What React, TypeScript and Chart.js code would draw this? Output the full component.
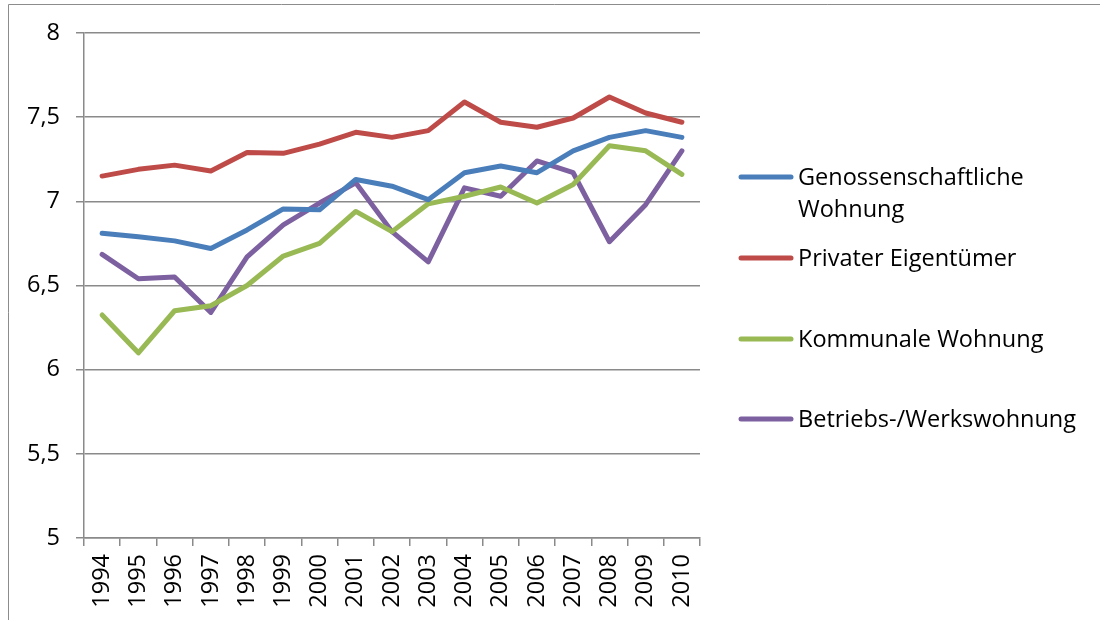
import React, { useEffect, useRef } from "react";
import { Chart, registerables } from "chart.js";

Chart.register(...registerables);

const years = ["1994", "1995", "1996", "1997", "1998", "1999", "2000", "2001", "2002", "2003", "2004", "2005", "2006", "2007", "2008", "2009", "2010"];
const genossenschaftlich = [6.81, 6.79, 6.765, 6.72, 6.83, 6.955, 6.95, 7.13, 7.09, 7.01, 7.17, 7.21, 7.17, 7.3, 7.38, 7.42, 7.38];
const privat = [7.15, 7.19, 7.215, 7.18, 7.29, 7.285, 7.34, 7.41, 7.38, 7.42, 7.59, 7.47, 7.44, 7.495, 7.62, 7.525, 7.47];
const kommunal = [6.325, 6.1, 6.35, 6.38, 6.5, 6.675, 6.75, 6.94, 6.82, 6.985, 7.03, 7.085, 6.99, 7.1, 7.33, 7.3, 7.16];
const betrieb = [6.685, 6.54, 6.55, 6.34, 6.67, 6.86, 6.99, 7.11, 6.82, 6.64, 7.08, 7.03, 7.24, 7.17, 6.76, 6.98, 7.3];
const seriesNames = ["Genossenschaftliche Wohnung", "Privater Eigentümer", "Kommunale Wohnung", "Betriebs-/Werkswohnung"];
const legendLines = [["Genossenschaftliche", "Wohnung"], ["Privater Eigentümer"], ["Kommunale Wohnung"], ["Betriebs-/Werkswohnung"]];
const seriesColors = ["#4A7EBB", "#BE4B48", "#98B954", "#7D60A0"];
const yMin = 5;
const yMax = 8;
const yStep = 0.5;

const FONT = "'Open Sans', Lato, sans-serif";
const FONT_SIZE = 23.5;
const GRID = "#8a8a8a";

const framePlugin = {
  id: "frame",
  beforeDraw(chart: any) {
    const ctx = chart.ctx;
    ctx.save();
    ctx.strokeStyle = "#8c8c8c";
    ctx.lineWidth = 1;
    ctx.beginPath();
    ctx.moveTo(8.5, 620);
    ctx.lineTo(8.5, 4.5);
    ctx.lineTo(1100, 4.5);
    ctx.stroke();
    ctx.restore();
  },
};

const legendPlugin = {
  id: "customLegend",
  afterDraw(chart: any) {
    const ctx = chart.ctx;
    const rowY = [177, 258, 339, 419];
    ctx.save();
    chart.data.datasets.forEach((ds: any, i: number) => {
      const y = rowY[i];
      ctx.strokeStyle = ds.borderColor;
      ctx.lineWidth = 5;
      ctx.lineCap = "round";
      ctx.beginPath();
      ctx.moveTo(741, y);
      ctx.lineTo(791, y);
      ctx.stroke();
      ctx.fillStyle = "#000";
      ctx.font = `${FONT_SIZE}px ${FONT}`;
      ctx.textAlign = "left";
      ctx.textBaseline = "alphabetic";
      legendLines[i].forEach((t, j) => {
        ctx.fillText(t, 798, y + 8 + j * 32);
      });
    });
    ctx.restore();
  },
};

export default function App() {
  const ref = useRef<HTMLCanvasElement>(null);
  useEffect(() => {
    const canvas = ref.current!;
    const data = [genossenschaftlich, privat, kommunal, betrieb];
    const chart = new Chart(canvas, {
      type: "line",
      data: {
        labels: years,
        datasets: data.map((d, i) => ({
          label: seriesNames[i],
          data: d,
          borderColor: seriesColors[i],
          backgroundColor: seriesColors[i],
          borderWidth: 5,
          pointRadius: 0,
          tension: 0,
          borderCapStyle: "round" as const,
          borderJoinStyle: "round" as const,
          fill: false,
        })),
      },
      options: {
        animation: false,
        responsive: false,
        devicePixelRatio: 1,
        layout: { padding: { left: 0, top: 33, right: 400, bottom: 0 } },
        plugins: { legend: { display: false }, tooltip: { enabled: false } },
        scales: {
          x: {
            offset: true,
            grid: {
              display: true,
              offset: true,
              drawOnChartArea: false,
              drawTicks: true,
              tickLength: 8,
              color: GRID,
              lineWidth: 1.5,
            },
            border: { display: true, color: GRID, width: 1.5 },
            ticks: {
              minRotation: 90,
              maxRotation: 90,
              autoSkip: false,
              padding: 8,
              color: "#000",
              font: { family: FONT, size: FONT_SIZE },
            },
            afterFit(scale: any) {
              scale.height = 82;
            },
          },
          y: {
            min: yMin,
            max: yMax,
            grid: {
              display: true,
              drawTicks: true,
              tickLength: 8,
              color: GRID,
              lineWidth: 1.5,
            },
            border: { display: true, color: GRID, width: 1.5 },
            ticks: {
              stepSize: yStep,
              padding: 16,
              color: "#000",
              font: { family: FONT, size: FONT_SIZE },
              callback: (v: any) => String(v).replace(".", ","),
            },
            afterFit(scale: any) {
              scale.width = 84;
            },
          },
        },
      },
      plugins: [framePlugin, legendPlugin],
    });
    return () => chart.destroy();
  }, []);
  return (
    <div style={{ position: "fixed", left: 0, top: 0, width: 1100, height: 620, background: "#fff" }}>
      <canvas ref={ref} width={1100} height={620} style={{ width: 1100, height: 620, display: "block" }} />
    </div>
  );
}
